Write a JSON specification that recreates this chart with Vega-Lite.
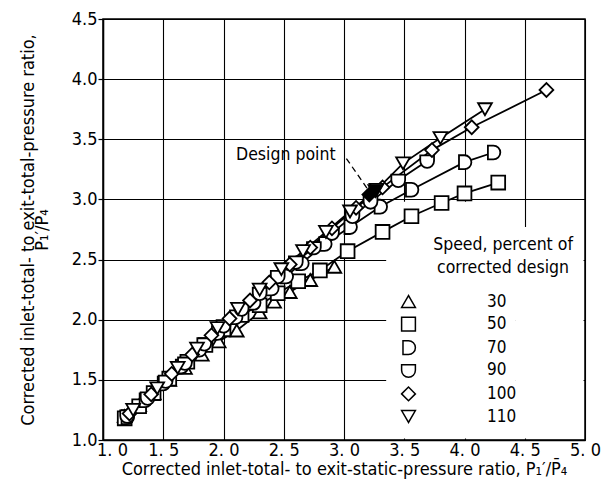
{
  "$schema": "https://vega.github.io/schema/vega-lite/v6.json",
  "width": 482,
  "height": 421,
  "autosize": {"type": "none"},
  "padding": {"left": 103, "top": 19, "right": 26, "bottom": 56},
  "background": "white",
  "config": {
    "font": "DejaVu Sans Condensed",
    "view": {"stroke": "black", "strokeWidth": 1.5},
    "axis": {
      "gridColor": "black", "gridOpacity": 1, "gridWidth": 1.1,
      "domainColor": "black", "domainWidth": 1.5,
      "tickColor": "black", "tickWidth": 1.2,
      "labelColor": "black", "titleColor": "black",
      "labelFont": "DejaVu Sans Condensed", "titleFont": "DejaVu Sans Condensed",
      "labelFontSize": 18, "titleFontSize": 18, "titleFontWeight": "normal"
    },
    "legend": {"labelFont": "DejaVu Sans Condensed", "labelColor": "black"}
  },
  "datasets": {
    "pts": [
      {"speed": "30", "s": 1.18, "t": 1.20}, {"speed": "30", "s": 1.30, "t": 1.29}, {"speed": "30", "s": 1.42, "t": 1.39},
      {"speed": "30", "s": 1.55, "t": 1.50}, {"speed": "30", "s": 1.68, "t": 1.60}, {"speed": "30", "s": 1.82, "t": 1.71},
      {"speed": "30", "s": 1.96, "t": 1.82}, {"speed": "30", "s": 2.11, "t": 1.91}, {"speed": "30", "s": 2.30, "t": 2.06},
      {"speed": "30", "s": 2.42, "t": 2.15}, {"speed": "30", "s": 2.55, "t": 2.23}, {"speed": "30", "s": 2.72, "t": 2.33},
      {"speed": "30", "s": 2.92, "t": 2.44},
      {"speed": "50", "s": 1.18, "t": 1.18}, {"speed": "50", "s": 1.30, "t": 1.28}, {"speed": "50", "s": 1.42, "t": 1.39},
      {"speed": "50", "s": 1.55, "t": 1.51}, {"speed": "50", "s": 1.70, "t": 1.65}, {"speed": "50", "s": 1.85, "t": 1.79},
      {"speed": "50", "s": 2.00, "t": 1.92}, {"speed": "50", "s": 2.15, "t": 2.04}, {"speed": "50", "s": 2.30, "t": 2.12},
      {"speed": "50", "s": 2.45, "t": 2.22}, {"speed": "50", "s": 2.62, "t": 2.32}, {"speed": "50", "s": 2.80, "t": 2.41},
      {"speed": "50", "s": 3.03, "t": 2.57}, {"speed": "50", "s": 3.32, "t": 2.73}, {"speed": "50", "s": 3.56, "t": 2.86},
      {"speed": "50", "s": 3.81, "t": 2.97}, {"speed": "50", "s": 4.00, "t": 3.05}, {"speed": "50", "s": 4.28, "t": 3.14},
      {"speed": "70", "s": 1.20, "t": 1.19}, {"speed": "70", "s": 1.35, "t": 1.33}, {"speed": "70", "s": 1.50, "t": 1.47},
      {"speed": "70", "s": 1.65, "t": 1.61}, {"speed": "70", "s": 1.80, "t": 1.75}, {"speed": "70", "s": 1.95, "t": 1.89},
      {"speed": "70", "s": 2.10, "t": 2.02}, {"speed": "70", "s": 2.25, "t": 2.14}, {"speed": "70", "s": 2.40, "t": 2.26},
      {"speed": "70", "s": 2.52, "t": 2.36}, {"speed": "70", "s": 2.65, "t": 2.47}, {"speed": "70", "s": 2.84, "t": 2.63},
      {"speed": "70", "s": 3.05, "t": 2.77}, {"speed": "70", "s": 3.30, "t": 2.94}, {"speed": "70", "s": 3.56, "t": 3.08},
      {"speed": "70", "s": 4.00, "t": 3.31}, {"speed": "70", "s": 4.24, "t": 3.39},
      {"speed": "90", "s": 1.20, "t": 1.20}, {"speed": "90", "s": 1.37, "t": 1.35}, {"speed": "90", "s": 1.52, "t": 1.49},
      {"speed": "90", "s": 1.68, "t": 1.64}, {"speed": "90", "s": 1.84, "t": 1.80}, {"speed": "90", "s": 2.00, "t": 1.95},
      {"speed": "90", "s": 2.15, "t": 2.09}, {"speed": "90", "s": 2.30, "t": 2.22}, {"speed": "90", "s": 2.45, "t": 2.36},
      {"speed": "90", "s": 2.60, "t": 2.48}, {"speed": "90", "s": 2.75, "t": 2.60}, {"speed": "90", "s": 2.90, "t": 2.72},
      {"speed": "90", "s": 3.07, "t": 2.86}, {"speed": "90", "s": 3.22, "t": 2.98}, {"speed": "90", "s": 3.45, "t": 3.16},
      {"speed": "90", "s": 3.69, "t": 3.32},
      {"speed": "100", "s": 1.22, "t": 1.22}, {"speed": "100", "s": 1.40, "t": 1.38}, {"speed": "100", "s": 1.57, "t": 1.55},
      {"speed": "100", "s": 1.74, "t": 1.71}, {"speed": "100", "s": 1.90, "t": 1.87}, {"speed": "100", "s": 2.05, "t": 2.01},
      {"speed": "100", "s": 2.22, "t": 2.16}, {"speed": "100", "s": 2.38, "t": 2.31}, {"speed": "100", "s": 2.55, "t": 2.46},
      {"speed": "100", "s": 2.72, "t": 2.60}, {"speed": "100", "s": 2.90, "t": 2.76}, {"speed": "100", "s": 3.10, "t": 2.93},
      {"speed": "100", "s": 3.32, "t": 3.10}, {"speed": "100", "s": 3.73, "t": 3.41}, {"speed": "100", "s": 4.06, "t": 3.60},
      {"speed": "100", "s": 4.68, "t": 3.91},
      {"speed": "110", "s": 1.25, "t": 1.25}, {"speed": "110", "s": 1.45, "t": 1.43}, {"speed": "110", "s": 1.62, "t": 1.60},
      {"speed": "110", "s": 1.78, "t": 1.76}, {"speed": "110", "s": 1.95, "t": 1.93}, {"speed": "110", "s": 2.12, "t": 2.09},
      {"speed": "110", "s": 2.30, "t": 2.25}, {"speed": "110", "s": 2.48, "t": 2.42}, {"speed": "110", "s": 2.66, "t": 2.57},
      {"speed": "110", "s": 2.85, "t": 2.73}, {"speed": "110", "s": 3.05, "t": 2.90}, {"speed": "110", "s": 3.27, "t": 3.08},
      {"speed": "110", "s": 3.49, "t": 3.30}, {"speed": "110", "s": 3.80, "t": 3.51}, {"speed": "110", "s": 4.17, "t": 3.75}
    ],
    "design": [
      {"speed": "100", "s": 3.21, "t": 3.04},
      {"speed": "110", "s": 3.26, "t": 3.07}
    ],
    "boxes": [
      {"s": 3.35, "s2": 4.42, "t": 1.012, "t2": 2.98},
      {"s": 4.42, "s2": 4.988, "t": 1.012, "t2": 2.77}
    ],
    "leader": [{"s": 3.02, "t": 3.34, "s2": 3.2, "t2": 3.08}],
    "note1": [{"label": "Design point", "s": 2.93, "t": 3.37}],
    "note2": [{"label": "Speed, percent of\ncorrected design", "s": 4.32, "t": 2.62}]
  },
  "layer": [
    {
      "data": {"name": "boxes"},
      "mark": {"type": "rect", "fill": "white", "stroke": null},
      "encoding": {
        "x": {"field": "s", "type": "quantitative", "scale": {"domain": [1, 5], "nice": false, "zero": false},
          "axis": {"values": [1, 1.5, 2, 2.5, 3, 3.5, 4, 4.5, 5], "format": ".1f", "labelExpr": "replace(datum.label, '.', '. ')",
            "tickSize": 0, "labelPadding": 1, "labelFlush": false, "labelOverlap": false,
            "labelOffset": {"condition": {"test": "datum.value == 1", "value": 9}, "value": 0},
            "title": "Corrected inlet-total- to exit-static-pressure ratio, P₁′/P̄₄", "titlePadding": 1}},
        "x2": {"field": "s2"},
        "y": {"field": "t", "type": "quantitative", "scale": {"domain": [1, 4.5], "nice": false, "zero": false},
          "axis": {"values": [1, 1.5, 2, 2.5, 3, 3.5, 4, 4.5], "format": ".1f",
            "tickSize": 5, "labelPadding": 1, "labelFlush": false, "labelOverlap": false,
            "title": ["Corrected inlet-total- to exit-total-pressure ratio,", "P₁′/P₄"], "titleLineHeight": 14, "titlePadding": 20}},
        "y2": {"field": "t2"}
      }
    },
    {
      "data": {"name": "pts"},
      "mark": {"type": "line", "stroke": "black", "strokeWidth": 1.8},
      "encoding": {
        "x": {"field": "s", "type": "quantitative"},
        "y": {"field": "t", "type": "quantitative"},
        "detail": {"field": "speed", "type": "nominal"},
        "order": {"field": "s", "type": "quantitative"}
      }
    },
    {
      "data": {"name": "pts"},
      "mark": {"type": "point", "filled": true, "fill": "white", "stroke": "black", "strokeWidth": 1.8, "size": 190, "opacity": 1},
      "encoding": {
        "x": {"field": "s", "type": "quantitative"},
        "y": {"field": "t", "type": "quantitative"},
        "shape": {"field": "speed", "type": "nominal",
          "scale": {"domain": ["30", "50", "70", "90", "100", "110"],
            "range": ["triangle-up", "square", "M-0.8,-1L0,-1A1,1,0,0,1,0,1L-0.8,1Z", "M-1,-0.8L1,-0.8L1,0A1,1,0,0,1,-1,0Z", "diamond", "triangle-down"]},
          "legend": {"orient": "none", "legendX": 297, "legendY": 274, "title": null, "padding": 0,
            "symbolSize": 190, "labelFontSize": 17, "labelOffset": 70, "rowPadding": 2.6,
            "labelExpr": "length(datum.label) < 3 ? '\u2007' + datum.label : datum.label",
            "encode": {"symbols": {"update": {"fill": {"value": "white"}, "stroke": {"value": "black"}, "strokeWidth": {"value": 1.8}, "opacity": {"value": 1}}}}}}
      }
    },
    {
      "data": {"name": "design"},
      "mark": {"type": "point", "filled": true, "fill": "black", "stroke": "black", "strokeWidth": 1.8, "size": 190, "opacity": 1},
      "encoding": {
        "x": {"field": "s", "type": "quantitative"},
        "y": {"field": "t", "type": "quantitative"},
        "shape": {"field": "speed", "type": "nominal"}
      }
    },
    {
      "data": {"name": "leader"},
      "mark": {"type": "rule", "stroke": "black", "strokeWidth": 1.3, "strokeDash": [6, 4]},
      "encoding": {
        "x": {"field": "s", "type": "quantitative"},
        "y": {"field": "t", "type": "quantitative"},
        "x2": {"field": "s2"},
        "y2": {"field": "t2"}
      }
    },
    {
      "data": {"name": "note1"},
      "mark": {"type": "text", "fontSize": 17.5, "font": "DejaVu Sans Condensed", "color": "black", "baseline": "middle", "align": "right"},
      "encoding": {
        "x": {"field": "s", "type": "quantitative"},
        "y": {"field": "t", "type": "quantitative"},
        "text": {"field": "label"}
      }
    },
    {
      "data": {"name": "note2"},
      "mark": {"type": "text", "fontSize": 17.5, "font": "DejaVu Sans Condensed", "color": "black", "baseline": "middle", "align": "center", "lineBreak": "\n", "lineHeight": 23},
      "encoding": {
        "x": {"field": "s", "type": "quantitative"},
        "y": {"field": "t", "type": "quantitative"},
        "text": {"field": "label"}
      }
    }
  ]
}
